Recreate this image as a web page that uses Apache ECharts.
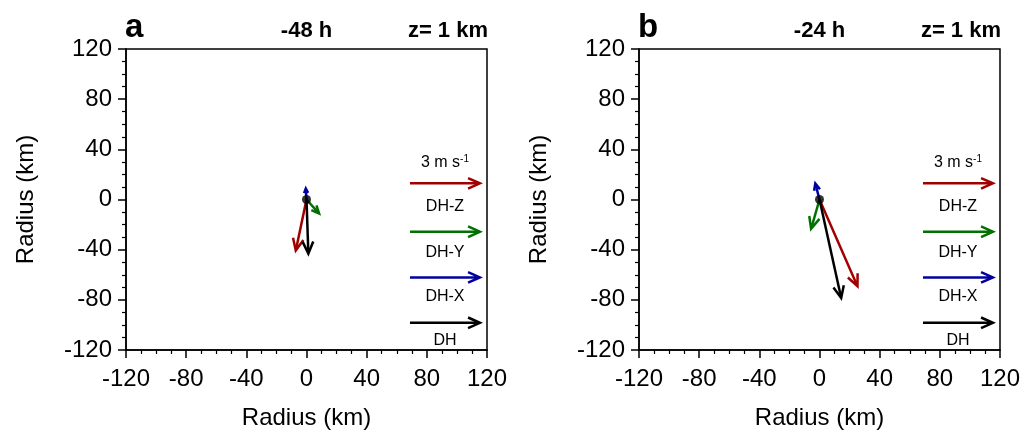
<!DOCTYPE html>
<html><head><meta charset="utf-8">
<script src="https://cdn.jsdelivr.net/npm/echarts@6/dist/echarts.min.js"></script>
<style>html,body{margin:0;padding:0;background:#fff}#c{width:1024px;height:440px}</style>
</head><body><div id="c"></div>
<script>
// ---- data ----
const components = ['DH-Z', 'DH-Y', 'DH-X', 'DH'];
const colors = ['#a00000', '#007000', '#0000a0', '#000000'];
// mean vectors in m/s (u eastward, v northward), panel a (-48 h) and b (-24 h)
const uA = [-0.46, 0.54, -0.03, 0.08];
const vA = [-2.19, -0.60, 0.47, -2.32];
const uB = [1.63, -0.36, -0.18, 0.93];
const vB = [-3.72, -1.26, 0.69, -4.22];
const panelLabels = ['a', 'b'];
const timeLabels = ['-48 h', '-24 h'];
const levelLabel = 'z= 1 km';
const refSpeed = 3;                                  // reference vector, m s-1
const refLegendY = [12.9, -25.7, -62.1, -98.3];      // legend arrow rows (km)
const refLabelY = [-6.0, -42.4, -77.5, -112.6];      // legend label rows (km)
const refTitleY = 29.1;                              // "3 m s-1" row (km)
const axisMin = -120, axisMax = 120, axisStep = 40;

// ---- layout constants ----
const REF_KM = 46.5;      // x-axis length (km) of the reference vector
const REF_X0 = 68.8;      // start of legend arrows (km)
const grids = [
  { left: 126, top: 49, width: 361, height: 301 },
  { left: 639, top: 49, width: 361, height: 301 }
];
const FONT = 'Liberation Sans, Arial, Helvetica, sans-serif';

function arrowShapes(p0, dx, dy, color) {
  const L = Math.hypot(dx, dy);
  const p1 = [p0[0] + dx, p0[1] + dy];
  const h = Math.min(13, L * 0.45);
  const ang = Math.atan2(dy, dx);
  const a = 0.42;
  const w1 = [p1[0] - h * Math.cos(ang - a), p1[1] - h * Math.sin(ang - a)];
  const w2 = [p1[0] - h * Math.cos(ang + a), p1[1] - h * Math.sin(ang + a)];
  const hs = h * 0.45, as = 0.35;
  const t1 = [p1[0] - hs * Math.cos(ang - as), p1[1] - hs * Math.sin(ang - as)];
  const t2 = [p1[0] - hs * Math.cos(ang + as), p1[1] - hs * Math.sin(ang + as)];
  const end = [p1[0] - 1.2 * Math.cos(ang), p1[1] - 1.2 * Math.sin(ang)];
  return [
    { type: 'line', shape: { x1: p0[0], y1: p0[1], x2: end[0], y2: end[1] },
      style: { stroke: color, lineWidth: 2.5 } },
    { type: 'polyline', shape: { points: [w1, p1, w2] },
      style: { stroke: color, lineWidth: 2.5, fill: null, lineJoin: 'miter' } },
    { type: 'polygon', shape: { points: [p1, t1, t2] }, style: { fill: color } }
  ];
}

function vecRender(params, api) {
  const p0 = api.coord([api.value(0), api.value(1)]);
  const k = api.size([REF_KM, 0])[0] / refSpeed;
  const u = api.value(2), v = api.value(3), ci = api.value(4);
  return { type: 'group', children: arrowShapes(p0, u * k, -v * k, colors[ci]) };
}

function legendRender(params, api) {
  const p0 = api.coord([api.value(0), api.value(1)]);
  const k = api.size([REF_KM, 0])[0] / refSpeed;
  const u = api.value(2), ci = api.value(4);
  const len = u * k;
  const cx = p0[0] + len / 2;
  const pl = api.coord([api.value(0), api.value(5)]);
  const children = arrowShapes(p0, len, 0, colors[ci]);
  children.push({ type: 'text', x: cx, y: pl[1],
    style: { text: components[ci], fill: '#000', font: '16px ' + FONT, align: 'center', verticalAlign: 'middle' } });
  if (params.dataIndex === 0) {
    const pt = api.coord([api.value(0), refTitleY]);
    children.push({ type: 'text', x: cx, y: pt[1],
      style: { text: '{n|' + refSpeed + ' m s}{s|-1}', align: 'center', verticalAlign: 'middle',
        rich: { n: { fontSize: 16, fontFamily: FONT, fill: '#000', color: '#000' },
                s: { fontSize: 10, fontFamily: FONT, fill: '#000', color: '#000', verticalAlign: 'top', padding: [0,0,8,0] } } } });
  }
  return { type: 'group', children };
}

function makeAxis(i, isX) {
  return {
    type: 'value', gridIndex: i, min: axisMin, max: axisMax, interval: axisStep,
    name: 'Radius (km)', nameLocation: 'middle', nameGap: isX ? 56 : 88,
    nameTextStyle: { fontSize: 24, color: '#000', fontFamily: FONT },
    axisLine: { show: true, onZero: false, lineStyle: { color: '#000', width: 1.5 } },
    axisTick: { show: true, inside: false, length: 8, lineStyle: { color: '#000', width: 1.5 } },
    minorTick: { show: true, splitNumber: 4, length: 4, lineStyle: { color: '#000', width: 1.2 } },
    axisLabel: { fontSize: 24, color: '#000', fontFamily: FONT, margin: isX ? 17 : 14, showMinLabel: true, showMaxLabel: true },
    splitLine: { show: false }, minorSplitLine: { show: false }
  };
}

const us = [uA, uB], vs = [vA, vB];
const series = [];
for (let i = 0; i < 2; i++) {
  series.push({
    type: 'custom', xAxisIndex: i, yAxisIndex: i, renderItem: vecRender, clip: false, z: 5,
    data: components.map((c, j) => [0, 0, us[i][j], vs[i][j], j])
  });
  series.push({
    type: 'scatter', xAxisIndex: i, yAxisIndex: i, data: [[0, 0]], symbolSize: 9,
    itemStyle: { color: '#000' }, z: 10, silent: true
  });
  series.push({
    type: 'custom', xAxisIndex: i, yAxisIndex: i, renderItem: legendRender, clip: false, z: 5,
    data: components.map((c, j) => [REF_X0, refLegendY[j], refSpeed, 0, j, refLabelY[j]])
  });
}

const graphic = [];
for (let i = 0; i < 2; i++) {
  const g = grids[i];
  graphic.push({ type: 'text', left: g.left - 1, top: 11,
    style: { text: panelLabels[i], font: 'bold 33px ' + FONT, fill: '#000' } });
  graphic.push({ type: 'text', x: g.left + g.width / 2, y: 31,
    style: { text: timeLabels[i], font: 'bold 22px ' + FONT, fill: '#000', align: 'center', verticalAlign: 'middle' } });
  graphic.push({ type: 'text', x: g.left + g.width + 1, y: 31,
    style: { text: levelLabel, font: 'bold 22px ' + FONT, fill: '#000', align: 'right', verticalAlign: 'middle' } });
}

const chart = echarts.init(document.getElementById('c'), null, { renderer: 'canvas' });
chart.setOption({
  animation: false,
  backgroundColor: '#fff',
  grid: grids.map(g => Object.assign({ show: true, borderColor: '#000', borderWidth: 1.5, backgroundColor: 'transparent' }, g)),
  xAxis: [makeAxis(0, true), makeAxis(1, true)],
  yAxis: [makeAxis(0, false), makeAxis(1, false)],
  series,
  graphic
});
</script>
</body></html>
